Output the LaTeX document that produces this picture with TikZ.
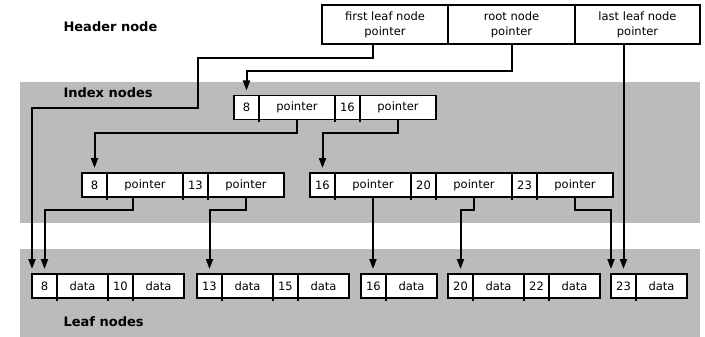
\documentclass[tikz,border=0pt]{standalone}
\usepackage{fontspec}
\setmainfont{DejaVu Sans}
\usepackage{tikz}
\usetikzlibrary{arrows.meta,positioning}
\definecolor{bandgray}{RGB}{187,187,187}

\begin{document}
\begin{tikzpicture}[x=1pt,y=-1pt,>={Triangle[length=10pt,width=7pt]},
    cell/.style={draw,fill=white,line width=1.4pt,outer sep=0pt,inner sep=0pt,
      minimum height=24pt,font=\fontsize{11.5}{15}\selectfont},
    keycell/.style={cell,minimum width=25pt},
    ptrcell/.style={cell,minimum width=76pt},
    datacell/.style={cell,minimum width=51pt},
    headcell/.style={cell,minimum height=39pt,align=center},
    divtick/.style={append after command={(\tikzlastnode.south west) edge[line width=1.4pt] ++(0,3)}},
    link/.style={->,line width=2pt,shorten >=5pt},
    band/.style={font=\bfseries\fontsize{13}{15}\selectfont,anchor=west}]
    \useasboundingbox (0,0) rectangle (705,337);
    % grey bands
    \fill[bandgray] (20,82) rectangle (700,223);
    \fill[bandgray] (20,249) rectangle (700,337);
    \node[band] at (60,27) {Header node};
    \node[band] at (60,93) {Index nodes};
    \node[band] at (60,322) {Leaf nodes};

    % header
    \node[headcell,minimum width=126pt,anchor=north west] (hfirst) at (322,5) {first leaf node\\pointer};
    \node[headcell,minimum width=127pt,right=0pt of hfirst] (hroot) {root node\\pointer};
    \node[headcell,minimum width=125pt,right=0pt of hroot] (hlast) {last leaf node\\pointer};

    % root index node
    \node[keycell,anchor=west] (i8) at (234,107.5) {8};
    \node[ptrcell,divtick,right=0pt of i8] (ip1) {pointer};
    \node[keycell,divtick,right=0pt of ip1] (i16) {16};
    \node[ptrcell,divtick,right=0pt of i16] (ip2) {pointer};

    % second level
    \node[keycell,anchor=west] (a8) at (82,185) {8};
    \node[ptrcell,divtick,right=0pt of a8] (ap1) {pointer};
    \node[keycell,divtick,right=0pt of ap1] (a13) {13};
    \node[ptrcell,divtick,right=0pt of a13] (ap2) {pointer};

    \node[keycell,anchor=west] (b16) at (310,185) {16};
    \node[ptrcell,divtick,right=0pt of b16] (bp1) {pointer};
    \node[keycell,divtick,right=0pt of bp1] (b20) {20};
    \node[ptrcell,divtick,right=0pt of b20] (bp2) {pointer};
    \node[keycell,divtick,right=0pt of bp2] (b23) {23};
    \node[ptrcell,divtick,right=0pt of b23] (bp3) {pointer};

    % leaves
    \node[keycell,anchor=west] (l8) at (32,286) {8};
    \node[datacell,divtick,right=0pt of l8] (ld1) {data};
    \node[keycell,divtick,right=0pt of ld1] (l10) {10};
    \node[datacell,divtick,right=0pt of l10] (ld2) {data};

    \node[keycell,anchor=west] (l13) at (197,286) {13};
    \node[datacell,divtick,right=0pt of l13] (ld3) {data};
    \node[keycell,divtick,right=0pt of ld3] (l15) {15};
    \node[datacell,divtick,right=0pt of l15] (ld4) {data};

    \node[keycell,anchor=west] (l16) at (361,286) {16};
    \node[datacell,divtick,right=0pt of l16] (ld5) {data};

    \node[keycell,anchor=west] (l20) at (448,286) {20};
    \node[datacell,divtick,right=0pt of l20] (ld6) {data};
    \node[keycell,divtick,right=0pt of ld6] (l22) {22};
    \node[datacell,divtick,right=0pt of l22] (ld7) {data};

    \node[keycell,anchor=west] (l23) at (611,286) {23};
    \node[datacell,divtick,right=0pt of l23] (ld8) {data};

    % pointers
    \draw[link] ([xshift=-12pt]hfirst.south) -- ++(0,14) -| ++(-175,50) -| (l8.north west);
    \draw[link] (hroot.south) -- ++(0,27) -| (i8.north);
    \draw[link] (l23.north |- hlast.south) -- (l23.north);
    \draw[link] (ip1.south) -- ++(0,14) -| (a8.north);
    \draw[link] (ip2.south) -- ++(0,14) -| (b16.north);
    \draw[link] ([xshift=-12pt]ap1.south) -- ++(0,13) -| (l8.north);
    \draw[link] (ap2.south) -- ++(0,13) -| (l13.north);
    \draw[link] (bp1.south) -- (bp1.south |- l16.north);
    \draw[link] (bp2.south) -- ++(0,13) -| (l20.north);
    \draw[link] (bp3.south) -- ++(0,13) -| (l23.north west);
\end{tikzpicture}
\end{document}
